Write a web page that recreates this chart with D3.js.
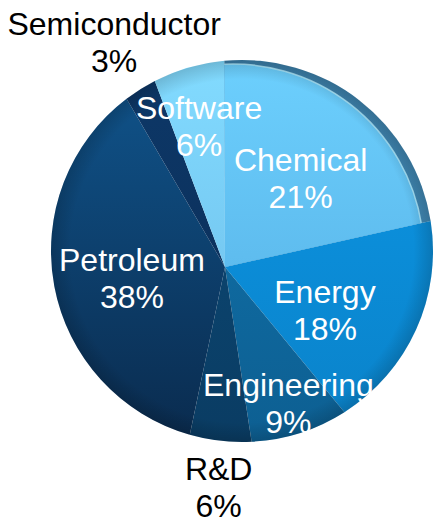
<!DOCTYPE html>
<html>
<head>
<meta charset="utf-8">
<script src="https://cdn.jsdelivr.net/npm/d3@7"></script>
<style>
  body { margin: 0; background: #fff; }
  text { font-family: "Liberation Sans", Arial, Helvetica, sans-serif; }
</style>
</head>
<body>
<svg id="pie" width="434" height="522"></svg>
<script>
// industries, clockwise from 12 o'clock
var sectors = ["Chemical", "Energy", "Engineering", "R&D", "Petroleum", "Semiconductor", "Software"];
var shares  = [21.45, 17.6, 8.6, 5.7, 38.25, 2.7, 5.7];

var topColors    = ["#6ccffd", "#0c97e6", "#1175ae", "#0c4b78", "#10558d", "#0d3868", "#82dbff"];
var bottomColors = ["#52abe1", "#0a82c9", "#0d5f92", "#0a3c63", "#0a2b4e", "#0b2c55", "#6bb9e6"];

// label placement: radius along the mid angle, then a small nudge in px
var labelSpot = {
  "Chemical":      {r: 0.62, dx: -3,  dy: 10},
  "Energy":        {r: 0.62, dx: -15, dy: 4},
  "Engineering":   {r: 0.78, dx: 5,   dy: 6},
  "R&D":           {r: 1.35, dx: 0,   dy: -8},
  "Petroleum":     {r: 0.55, dx: 4,   dy: -4},
  "Semiconductor": {r: 1.27, dx: -2,  dy: 4},
  "Software":      {r: 0.72, dx: 0,   dy: 0}
};

var svg = d3.select("#pie");
var cx = 242, cy = 251, R = 191;

// the disc is seen slightly tilted: centre of the pie projects off the outline centre
var tilt = [-0.089, 0.084],
    ta = Math.hypot(tilt[0], tilt[1]),
    ux = tilt[0] / ta, uy = tilt[1] / ta, vx = -uy, vy = ux;

function warp(angle, r) {
  var qx = r * Math.sin(angle), qy = -r * Math.cos(angle);
  var s = qx * ux + qy * uy, t = qx * vx + qy * vy;
  var k = 1 + ta * s;
  var s2 = (s + ta) / k, t2 = t * Math.sqrt(1 - ta * ta) / k;
  return [cx + R * (s2 * ux + t2 * vx), cy + R * (s2 * uy + t2 * vy)];
}

function rimAngle(p) { return Math.atan2(p[0] - cx, -(p[1] - cy)); }

function arcTo(p0, p1) {
  var span = rimAngle(p1) - rimAngle(p0);
  span = ((span % (2 * Math.PI)) + 2 * Math.PI) % (2 * Math.PI);
  return "A" + R + "," + R + " 0 " + (span > Math.PI ? 1 : 0) + " 1 " + p1[0] + "," + p1[1];
}

function slicePath(d) {
  var o = warp(0, 0), p0 = warp(d.startAngle, 1), p1 = warp(d.endAngle, 1);
  return "M" + o + "L" + p0 + arcTo(p0, p1) + "Z";
}

var pie = d3.pie().sort(null).value(function(d) { return d; });
var arcs = pie(shares);
var total = d3.sum(shares);

var defs = svg.append("defs");
sectors.forEach(function(name, i) {
  var g = defs.append("linearGradient")
      .attr("id", "grad" + i)
      .attr("gradientUnits", "userSpaceOnUse")
      .attr("x1", 0).attr("y1", cy - R).attr("x2", 0).attr("y2", cy + R);
  g.append("stop").attr("offset", 0).attr("stop-color", topColors[i]);
  g.append("stop").attr("offset", 1).attr("stop-color", bottomColors[i]);
});

var edge = defs.append("radialGradient").attr("id", "edge")
    .attr("gradientUnits", "userSpaceOnUse")
    .attr("cx", cx).attr("cy", cy).attr("r", R);
edge.append("stop").attr("offset", 0.9).attr("stop-color", "#000").attr("stop-opacity", 0);
edge.append("stop").attr("offset", 1).attr("stop-color", "#000").attr("stop-opacity", 0.16);

var rim = defs.append("linearGradient").attr("id", "rim")
    .attr("x1", 0).attr("y1", 0).attr("x2", 1).attr("y2", 1);
rim.append("stop").attr("offset", 0).attr("stop-color", "#3b7ea8");
rim.append("stop").attr("offset", 1).attr("stop-color", "#4189b5");

defs.append("clipPath").attr("id", "raised")
  .append("path").attr("d", slicePath(arcs[0]));

var slices = svg.append("g");

slices.selectAll("path.slice")
  .data(arcs)
  .enter().append("path")
    .attr("class", "slice")
    .attr("d", slicePath)
    .attr("fill", function(d, i) { return i === 0 ? "url(#rim)" : "url(#grad" + i + ")"; });

// the raised chemical wedge: top face sits a little up-left of its side
var face = slices.append("g").attr("clip-path", "url(#raised)")
    .append("g").attr("transform", "translate(-9,4)");
face.append("path")
    .attr("d", slicePath(arcs[0]))
    .attr("fill", "url(#grad0)");
var h0 = warp(arcs[0].startAngle, 1), h1 = warp(arcs[0].endAngle, 1);
face.append("path")
    .attr("d", "M" + h0 + arcTo(h0, h1))
    .attr("fill", "none")
    .attr("stroke", "#b8efff")
    .attr("stroke-opacity", 0.8)
    .attr("stroke-width", 1.5);

svg.append("circle")
    .attr("cx", cx).attr("cy", cy).attr("r", R)
    .attr("fill", "url(#edge)");

var labels = svg.append("g")
    .attr("text-anchor", "middle")
    .style("font-size", "32px");

arcs.forEach(function(d, i) {
  var spot = labelSpot[sectors[i]];
  var p = warp((d.startAngle + d.endAngle) / 2, spot.r);
  var t = labels.append("text")
      .attr("fill", spot.r > 1 ? "#000" : "#fff")
      .attr("transform", "translate(" + (p[0] + spot.dx) + "," + (p[1] + spot.dy - 7.5) + ")");
  t.append("tspan").attr("x", 0).attr("y", 0).text(sectors[i]);
  t.append("tspan").attr("x", 0).attr("y", 37).text(Math.round(d.value / total * 100) + "%");
});
</script>
</body>
</html>
